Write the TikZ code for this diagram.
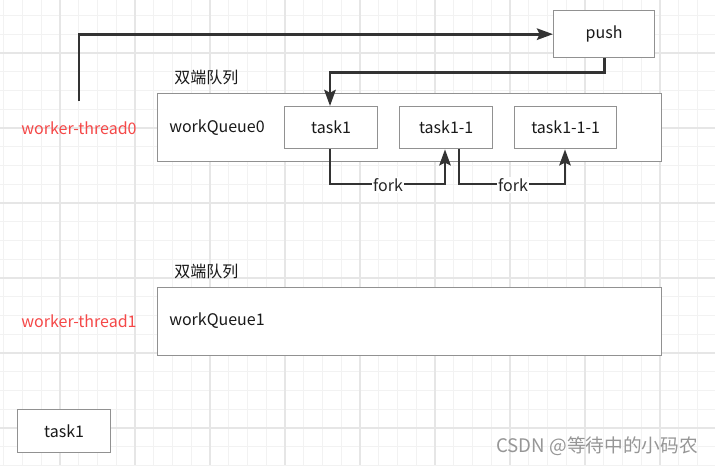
\documentclass[tikz,border=0pt]{standalone}
\usepackage{fontspec}
\setmainfont{Noto Sans CJK SC}
\usetikzlibrary{arrows.meta}
\definecolor{gridminor}{RGB}{242,242,242}
\definecolor{gridmajor}{RGB}{230,230,230}
\definecolor{boxline}{RGB}{145,145,145}
\definecolor{linedark}{RGB}{51,51,51}
\definecolor{redtext}{RGB}{245,72,72}
\definecolor{wm}{RGB}{150,150,150}
\tikzset{
  box/.style={draw=boxline, line width=1pt, fill=white, inner sep=0pt, anchor=north west},
  lbl/.style={font=\fontsize{12}{14}\selectfont, text=black!90, inner sep=0pt},
  redlbl/.style={font=\fontsize{12}{14}\selectfont, text=redtext, inner sep=0pt},
  conn/.style={draw=linedark, line width=2.2pt, -{Stealth[length=12pt,width=8.5pt,inset=2pt]}},
  forklbl/.style={font=\fontsize{12}{14}\selectfont, fill=white, inner sep=1pt, text=black!85}
}
\begin{document}
\begin{tikzpicture}[x=0.75pt,y=-0.75pt]
\useasboundingbox (0,0) rectangle (715,465);
\fill[white] (0,0) rectangle (715,465);
% grid
\foreach \i in {0,...,38} {
  \pgfmathsetmacro{\gx}{3.75+18.75*\i}
  \draw[gridminor, line width=0.8pt] (\gx,0) -- (\gx,465);
}
\foreach \i in {0,...,25} {
  \pgfmathsetmacro{\gy}{15.5+18.75*\i}
  \draw[gridminor, line width=0.8pt] (0,\gy) -- (715,\gy);
}
\foreach \i in {0,...,9} {
  \pgfmathsetmacro{\gx}{60+75*\i-75}
  \draw[gridmajor, line width=1pt] (\gx,0) -- (\gx,465);
}
\foreach \i in {0,...,6} {
  \pgfmathsetmacro{\gy}{53+75*\i-75}
  \draw[gridmajor, line width=1pt] (0,\gy) -- (715,\gy);
}
% row 0
\node[box, minimum width=75.6pt, minimum height=35.25pt] (push) at (553,10) {};
\node[lbl] at (push.center) {push};
\node[lbl, anchor=west] (dq0) at (174,77) {双端队列};
\node[box, minimum width=378pt, minimum height=51pt] (wq0) at (157,93) {};
\node[lbl, anchor=west] (wq0t) at (169,128) {workQueue0};
\node[redlbl] (wt0) at (79,128) {worker-thread0};
\node[box, minimum width=69.75pt, minimum height=31.5pt] (t1) at (284,106) {};
\node[lbl] at (t1.center) {task1};
\node[box, minimum width=69.75pt, minimum height=31.5pt] (t11) at (399,106) {};
\node[lbl] at (t11.center) {task1-1};
\node[box, minimum width=76.5pt, minimum height=31.5pt] (t111) at (514,106) {};
\node[lbl] at (t111.center) {task1-1-1};
\coordinate (s0) at (79,101);
\draw[conn] (s0) |- (push.west);
\draw[conn] (push.south) -- ++(0,14) -| (t1.north -| 330,0);
\draw[conn] (t1.south -| 330,0) -- (330,184) -- (445,184) -- (t11.south -| 445,0);
\draw[conn] (t11.south -| 459,0) -- (459,184) -- (565,184) -- (t111.south -| 565,0);
\node[forklbl] (f1) at (388,185) {fork};
\node[forklbl] (f2) at (513,185) {fork};
% row 1
\node[lbl, anchor=west] (dq1) at (174,271) {双端队列};
\node[box, minimum width=378pt, minimum height=51pt] (wq1) at (157,287) {};
\node[lbl, anchor=west] (wq1t) at (169,321) {workQueue1};
\node[redlbl] (wt1) at (79,321) {worker-thread1};
% lone task
\node[box, minimum width=69.75pt, minimum height=32.25pt] (t1b) at (17,409) {};
\node[lbl] at (t1b.center) {task1};
% watermark
\node[font=\fontsize{14}{16}\selectfont, text=wm, anchor=east, inner sep=0pt] (wmk) at (698,446) {CSDN @等待中的小码农};
\end{tikzpicture}
\end{document}
